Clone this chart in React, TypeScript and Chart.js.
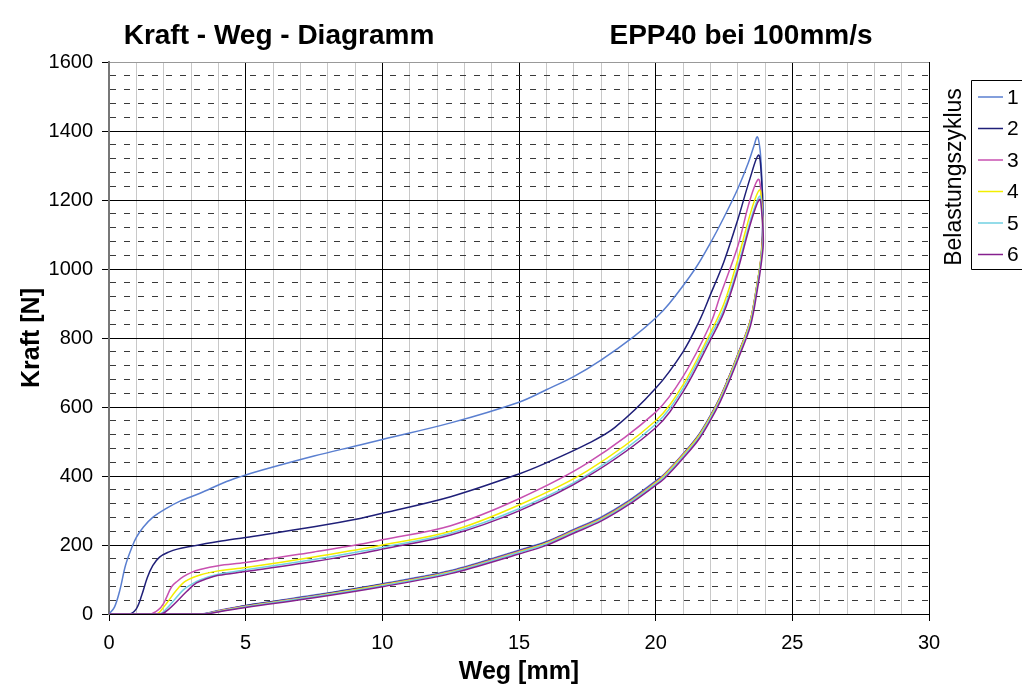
import { useEffect, useRef } from 'react';
import { Chart, registerables } from 'chart.js';

Chart.register(...registerables);

const FONT = "'Liberation Sans', Arial, Helvetica, sans-serif";

// Belastungszyklus 1
const weg1 = [0, 0.2, 0.4, 0.6, 0.83, 1.0, 1.26, 1.6, 2.1, 2.6, 3.33, 4.3, 5, 6, 7.5, 9.18, 10, 12.5, 15, 16, 17, 18, 19.2, 20, 20.5, 21.44, 22, 22.5, 23, 23.4, 23.6, 23.72,
  23.82, 23.88, 23.93, 23.87, 23.72, 23.47, 23.02, 22.52, 22.22, 21.62, 21.02, 20.32, 20.0, 19.0, 18.0, 17.0, 16.0, 15.0, 12.5, 10.0, 7.5, 5.0, 4.0, 3.35, 0];
const kraft1 = [0, 20, 70, 140, 192, 222, 252, 280, 306, 327, 350, 384, 403, 426, 458, 490, 506, 554, 614, 650, 688, 736, 804, 858, 900, 1000, 1075, 1150, 1232, 1310, 1358, 1383,
  1345, 1268, 1150, 1040, 958, 852, 756, 657, 607, 525, 466, 406, 386, 328, 281, 245, 210, 185, 126, 88, 55, 25, 10, 0, 0];

// Belastungszyklus 2
const weg2 = [0, 0.75, 1.0, 1.2, 1.4, 1.6, 1.85, 2.2, 2.5, 3.0, 4.0, 5, 7.5, 9.18, 10, 12.5, 15, 16, 17.5, 18.5, 20, 21, 21.6, 22, 22.5, 23, 23.45, 23.76,
  23.86, 23.92, 23.86, 23.71, 23.46, 23.01, 22.51, 22.21, 21.61, 21.01, 20.31, 20.0, 19.0, 18.0, 17.0, 16.0, 15.0, 12.5, 10.0, 7.5, 5.0, 4.0, 3.38, 0];
const kraft2 = [0, 0, 15, 55, 105, 140, 165, 180, 188, 196, 210, 222, 253, 277, 292, 340, 406, 438, 493, 540, 654, 760, 850, 925, 1022, 1142, 1262, 1330,
  1280, 1160, 1036, 955, 849, 752, 654, 604, 522, 463, 403, 383, 325, 278, 243, 208, 183, 124, 86, 53, 24, 9, 0, 0];

// Belastungszyklus 3
const weg3 = [0, 1.5, 1.8, 2.0, 2.29, 2.5, 2.72, 3.0, 3.33, 4, 5, 7.5, 9.18, 10, 12.5, 15, 17.5, 20, 21, 22, 22.35, 23, 23.45, 23.76,
  23.86, 23.92, 23.855, 23.7, 23.45, 23.0, 22.5, 22.2, 21.6, 21.0, 20.3, 20.0, 19.0, 18.0, 17.0, 16.0, 15.0, 12.5, 10.0, 7.5, 5.0, 4.0, 3.4, 0];
const kraft3 = [0, 0, 12, 31, 79, 95, 108, 120, 129, 140, 149, 180, 202, 215, 256, 334, 437, 585, 688, 840, 920, 1065, 1200, 1260,
  1215, 1120, 1033, 952, 847, 750, 652, 602, 520, 462, 402, 382, 324, 277, 242, 207, 182, 123, 85, 52, 23, 9, 0, 0];

// Belastungszyklus 4
const weg4 = [0, 1.73, 2.0, 2.48, 2.8, 3.33, 4, 5, 7.5, 9.18, 10, 12.5, 15, 17.5, 20, 21, 22, 22.5, 23, 23.5, 23.8,
  23.88, 23.92, 23.85, 23.7, 23.45, 23.0, 22.5, 22.2, 21.6, 21.0, 20.3, 20.0, 19.0, 18.0, 17.0, 16.0, 15.0, 12.5, 10.0, 7.5, 5.0, 4.0, 3.42, 0];
const kraft4 = [0, 0, 20, 70, 95, 113, 125, 135, 165, 188, 200, 240, 316, 415, 560, 664, 815, 900, 1026, 1170, 1229,
  1190, 1100, 1030, 950, 845, 748, 650, 600, 518, 460, 400, 380, 322, 275, 240, 205, 180, 122, 84, 51, 22, 8, 0, 0];

// Belastungszyklus 5
const weg5 = [0, 1.85, 2.1, 2.72, 3.0, 3.33, 4, 5, 7.5, 9.18, 10, 12.5, 15, 17.5, 20, 21, 22, 22.5, 23, 23.5, 23.8,
  23.88, 23.93, 23.86, 23.71, 23.46, 23.01, 22.51, 22.21, 21.61, 21.01, 20.31, 20.0, 19.0, 18.0, 17.0, 16.0, 15.0, 12.5, 10.0, 7.5, 5.0, 4.0, 3.45, 0];
const kraft5 = [0, 0, 15, 70, 85, 99, 115, 128, 158, 181, 193, 234, 305, 403, 550, 654, 805, 885, 1005, 1150, 1211,
  1175, 1090, 1026, 946, 841, 744, 647, 597, 515, 457, 397, 377, 320, 273, 238, 203, 178, 120, 82, 50, 21, 7, 0, 0];

// Belastungszyklus 6
const weg6 = [0, 1.9, 2.2, 2.84, 3.2, 3.6, 4, 5, 7.5, 9.18, 10, 12.5, 15, 17.5, 20, 21, 22, 22.5, 23, 23.5, 23.8,
  23.88, 23.94, 23.87, 23.72, 23.47, 23.02, 22.52, 22.22, 21.62, 21.02, 20.32, 20.0, 19.0, 18.0, 17.0, 16.0, 15.0, 12.5, 10.0, 7.5, 5.0, 4.0, 3.5, 0];
const kraft6 = [0, 0, 15, 65, 90, 103, 112, 123, 152, 175, 188, 229, 299, 398, 540, 644, 794, 875, 995, 1140, 1202,
  1165, 1080, 1020, 940, 836, 740, 643, 593, 511, 453, 393, 373, 316, 269, 234, 199, 174, 117, 79, 47, 19, 6, 0, 0];

const wegSeries = [weg1, weg2, weg3, weg4, weg5, weg6];
const kraftSeries = [kraft1, kraft2, kraft3, kraft4, kraft5, kraft6];
const cycleLabels = ['1', '2', '3', '4', '5', '6'];
const cycleColors = ['#5a7fd0', '#1f1f78', '#c850b0', '#f2ee00', '#70d0e2', '#86208e'];

const xMajorTicks = [0, 5, 10, 15, 20, 25, 30];
const yMajorTicks = [0, 200, 400, 600, 800, 1000, 1200, 1400, 1600];
const titleLeft = 'Kraft - Weg - Diagramm';
const titleRight = 'EPP40 bei 100mm/s';
const legendTitle = 'Belastungszyklus';

const decorPlugin = {
  id: 'decor',
  afterDraw(chart: any) {
    const ctx = chart.ctx as CanvasRenderingContext2D;
    ctx.save();
    // titles
    ctx.fillStyle = '#000';
    ctx.font = `bold 28px ${FONT}`;
    ctx.textAlign = 'center';
    ctx.textBaseline = 'middle';
    ctx.fillText(titleLeft, 279, 36);
    ctx.fillText(titleRight, 741, 36);

    // legend box
    ctx.strokeStyle = '#000';
    ctx.lineWidth = 1;
    ctx.beginPath();
    ctx.moveTo(1030, 80.5);
    ctx.lineTo(971.5, 80.5);
    ctx.lineTo(971.5, 269.5);
    ctx.lineTo(1030, 269.5);
    ctx.stroke();

    // legend title (rotated)
    ctx.save();
    ctx.translate(955, 177);
    ctx.rotate(-Math.PI / 2);
    ctx.font = `23px ${FONT}`;
    ctx.textAlign = 'center';
    ctx.textBaseline = 'middle';
    ctx.fillText(legendTitle, 0, 0);
    ctx.restore();

    // legend entries
    ctx.font = `21px ${FONT}`;
    ctx.textAlign = 'left';
    ctx.textBaseline = 'middle';
    cycleLabels.forEach((lab, i) => {
      const y = 97 + i * 31.5;
      ctx.strokeStyle = cycleColors[i];
      ctx.lineWidth = 1.5;
      ctx.beginPath();
      ctx.moveTo(978, y);
      ctx.lineTo(1003, y);
      ctx.stroke();
      ctx.fillStyle = '#000';
      ctx.fillText(lab, 1007, y + 1);
    });
    ctx.restore();
  },
};

export default function App() {
  const canvasRef = useRef<HTMLCanvasElement | null>(null);

  useEffect(() => {
    if (!canvasRef.current) return;
    const datasets = wegSeries.map((w, i) => ({
      label: cycleLabels[i],
      data: w.map((x, j) => ({ x, y: kraftSeries[i][j] })),
      borderColor: cycleColors[i],
      backgroundColor: cycleColors[i],
      borderWidth: 1.5,
      pointRadius: 0,
      tension: 0.35,
      fill: false,
      order: 5 - i,
    }));

    const chart = new Chart(canvasRef.current, {
      type: 'line',
      data: { datasets },
      options: {
        animation: false,
        responsive: false,
        layout: { padding: { top: 62, right: 93, bottom: 0, left: 0 } },
        plugins: {
          legend: { display: false },
          title: { display: false },
          tooltip: { enabled: false },
        },
        scales: {
          x: {
            type: 'linear',
            min: 0,
            max: 30,
            afterFit: (s: any) => { s.height = 79; },
            ticks: {
              stepSize: 1,
              autoSkip: false,
              maxRotation: 0,
              padding: 10,
              color: '#000',
              font: { size: 20, family: FONT },
              callback: (v: any) => (xMajorTicks.includes(Number(v)) ? String(v) : ''),
            },
            grid: {
              color: (c: any) => (c.tick && xMajorTicks.includes(c.tick.value) ? '#000' : '#c8c8c8'),
              lineWidth: 1,
              tickLength: 7,
              tickColor: (c: any) => (c.tick && xMajorTicks.includes(c.tick.value) ? '#000' : 'rgba(0,0,0,0)'),
            },
            border: { color: '#000', width: 1 },
            title: {
              display: true,
              text: 'Weg [mm]',
              color: '#000',
              font: { size: 25, weight: 'bold', family: FONT },
              padding: { top: 0, bottom: 6 },
            },
          },
          y: {
            type: 'linear',
            min: 0,
            max: 1600,
            afterFit: (s: any) => { s.width = 109; },
            ticks: {
              stepSize: 40,
              autoSkip: false,
              maxTicksLimit: 1000,
              padding: 9,
              color: '#000',
              font: { size: 20, family: FONT },
              callback: (v: any) => (yMajorTicks.includes(Number(v)) ? String(v) : ''),
            },
            grid: {
              color: (c: any) => {
                if (!c.tick) return '#000';
                if (c.tick.value === 1600) return '#999';
                return yMajorTicks.includes(c.tick.value) ? '#000' : '#3a3a3a';
              },
              lineWidth: 1,
              tickLength: 7,
              tickColor: (c: any) => (c.tick && yMajorTicks.includes(c.tick.value) ? '#000' : 'rgba(0,0,0,0)'),
            },
            border: {
              color: '#777',
              width: 2,
              dash: (c: any) => (c.tick && !yMajorTicks.includes(c.tick.value) ? [6, 8] : []),
            },
            title: {
              display: true,
              text: 'Kraft [N]',
              color: '#000',
              font: { size: 25, weight: 'bold', family: FONT },
              padding: { top: 17, bottom: 0 },
            },
          },
        },
      },
      plugins: [decorPlugin],
    } as any);

    return () => chart.destroy();
  }, []);

  return (
    <div style={{ position: 'absolute', left: 0, top: 0, width: 1022, height: 693, background: '#fff' }}>
      <canvas ref={canvasRef} width={1022} height={693} />
    </div>
  );
}
